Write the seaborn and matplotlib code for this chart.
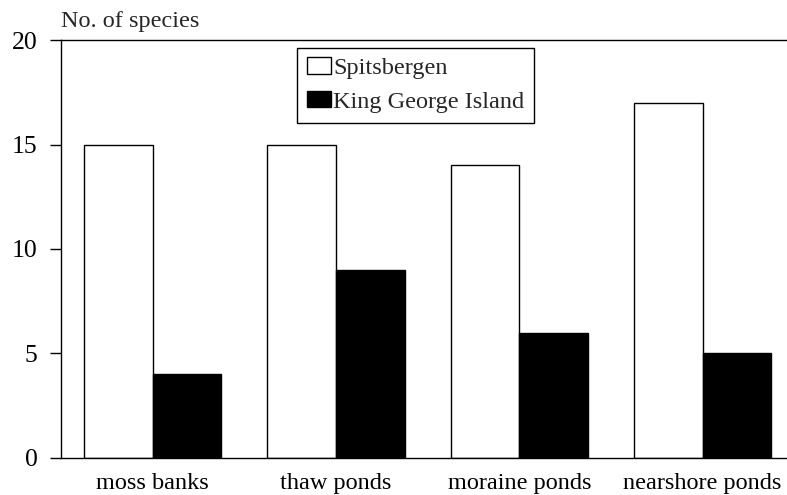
import pandas as pd
import seaborn as sns
import matplotlib.pyplot as plt

# data
habitats = ['moss banks', 'thaw ponds', 'moraine ponds', 'nearshore ponds']
spitsbergen = [15, 15, 14, 17]
king_george = [4, 9, 6, 5]
regions = ['Spitsbergen', 'King George Island']

df = pd.DataFrame({
    'habitat': habitats * 2,
    'region': [regions[0]] * 4 + [regions[1]] * 4,
    'species': spitsbergen + king_george,
})

sns.set_style('ticks')
plt.rcParams['font.family'] = ['Liberation Serif', 'DejaVu Serif']

fig = plt.figure(figsize=(7.87, 4.95), dpi=100)
ax = fig.add_axes([0.0775, 0.075, 0.9225, 0.844])

sns.barplot(data=df, x='habitat', y='species', hue='region', order=habitats,
            hue_order=regions, palette={regions[0]: 'white', regions[1]: 'black'},
            edgecolor='black', linewidth=1.0, width=0.75, ax=ax)

ax.set_ylim(0, 20)
ax.set_xlim(-0.5, 3.46)
ax.set_yticks([0, 5, 10, 15, 20])

ax.spines['right'].set_visible(False)
for s in ['left', 'top', 'bottom']:
    ax.spines[s].set_linewidth(1.0)
    ax.spines[s].set_color('black')

ax.tick_params(axis='y', length=8, width=1, pad=9, labelsize=18.5, colors='black')
ax.tick_params(axis='x', length=0, pad=11, labelsize=17.5, colors='black')

ax.set_xlabel('')
ax.set_ylabel('No. of species', rotation=0, ha='left', va='bottom', fontsize=17.5)
ax.yaxis.set_label_coords(0.0, 1.02)

leg = ax.legend(loc='upper left', bbox_to_anchor=(0.325, 0.982), fontsize=17.5,
                frameon=True, fancybox=False, edgecolor='black', framealpha=1,
                handlelength=1.0, handleheight=0.65, handletextpad=0.1,
                borderpad=0.4, labelspacing=0.5, borderaxespad=0)
leg.get_frame().set_linewidth(1.0)

fig.savefig('out.png', dpi=100)
